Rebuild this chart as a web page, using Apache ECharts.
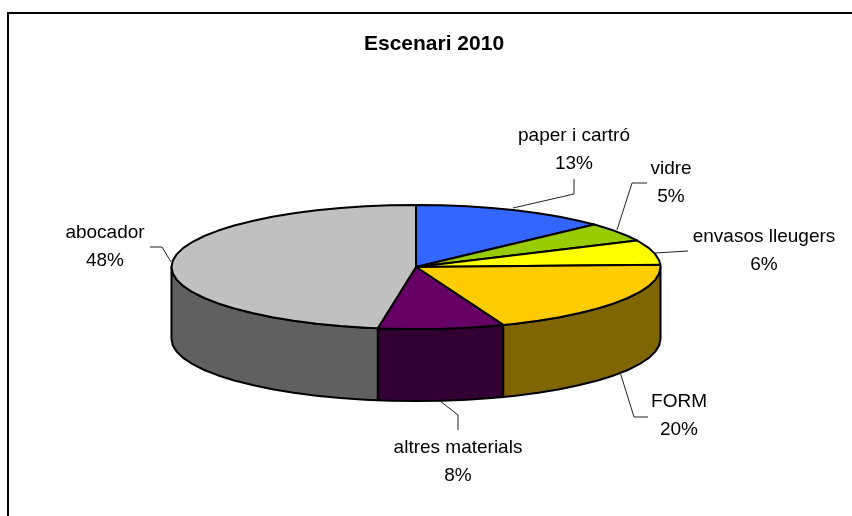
<!DOCTYPE html>
<html><head><meta charset="utf-8">
<style>html,body{margin:0;padding:0;background:#fff}#c{width:852px;height:516px}</style>
<script src="https://cdn.jsdelivr.net/npm/echarts@6/dist/echarts.min.js"></script>
</head><body><div id="c"></div>
<script>
const categories = ['paper i cartró','vidre','envasos lleugers','FORM','altres materials','abocador'];
const values = [13.0, 5.0, 6.4, 19.8, 8.3, 47.5];
const topColors = ['#3366FF','#99CC00','#FFFF00','#FFCC00','#660066','#C0C0C0'];
const sideColors = ['#1F3D99','#5C7A00','#999900','#806600','#330033','#606060'];
const labelCenters = [[574,136],[671,169],[764,237],[679,402],[458,448],[105,233]];
const leaders = [
  [[513,208],[574,194],[574,179]],
  [[617,230],[632,183],[647,183]],
  [[655,253],[688,251]],
  [[620,372],[634,417],[648,417]],
  [[440,401],[458,415],[458,430]],
  [[171,262],[162,247],[150,247]]
];
const CX=416, CY=267, RX=244.5, RY=62, DEPTH=72, STEP=6;
const total = values.reduce((a,b)=>a+b,0);
const starts=[]; let acc=0; values.forEach(v=>{starts.push(acc/total*360); acc+=v;});
function pt(a,dy){const r=a*Math.PI/180;return [CX+RX*Math.sin(r),CY-RY*Math.cos(r)+(dy||0)];}
function arc(a0,a1,dy){const p=[];let a=a0;while(a<a1){p.push(pt(a,dy));a+=STEP-(a%STEP);}p.push(pt(a1,dy));return p;}
const LW=2, FONT='19px "Liberation Sans", Arial, sans-serif';
function renderItem(params,api){
  const i=params.dataIndex, v=api.value(0), a0=starts[i], a1=a0+v/total*360;
  const ch=[];
  const s0=Math.max(a0,90), s1=Math.min(a1,270);
  if(s1>s0){
    const front=arc(s0,s1,0), back=arc(s0,s1,DEPTH).reverse();
    ch.push({type:'polygon',z2:1,shape:{points:front.concat(back)},style:{fill:sideColors[i],stroke:'#000',lineWidth:LW,lineJoin:'round'}});
  }
  ch.push({type:'polygon',z2:2,shape:{points:[[CX,CY]].concat(arc(a0,a1,0))},style:{fill:topColors[i],stroke:'#000',lineWidth:LW,lineJoin:'round'}});
  ch.push({type:'polyline',z2:3,shape:{points:leaders[i]},style:{fill:null,stroke:'#222',lineWidth:1}});
  const lc=labelCenters[i];
  ch.push({type:'text',z2:4,style:{x:lc[0],y:lc[1],text:categories[i],textAlign:'center',textVerticalAlign:'middle',font:FONT,fill:'#000'}});
  ch.push({type:'text',z2:4,style:{x:lc[0],y:lc[1]+28,text:Math.round(v/total*100)+'%',textAlign:'center',textVerticalAlign:'middle',font:FONT,fill:'#000'}});
  return {type:'group',children:ch};
}
const chart=echarts.init(document.getElementById('c'),null,{renderer:'canvas'});
chart.setOption({
  animation:false,
  backgroundColor:'#fff',
  title:{text:'Escenari 2010',left:429,top:29,textAlign:'center',textStyle:{fontFamily:'"Liberation Sans", Arial, sans-serif',fontSize:21,fontWeight:'bold',color:'#000'}},
  graphic:[{type:'polyline',silent:true,shape:{points:[[8,516],[8,13],[852,13]]},style:{fill:null,stroke:'#000',lineWidth:2}}],
  series:[{type:'custom',coordinateSystem:'none',renderItem,data:values.map((v,i)=>({name:categories[i],value:[v]}))}]
});
</script></body></html>
